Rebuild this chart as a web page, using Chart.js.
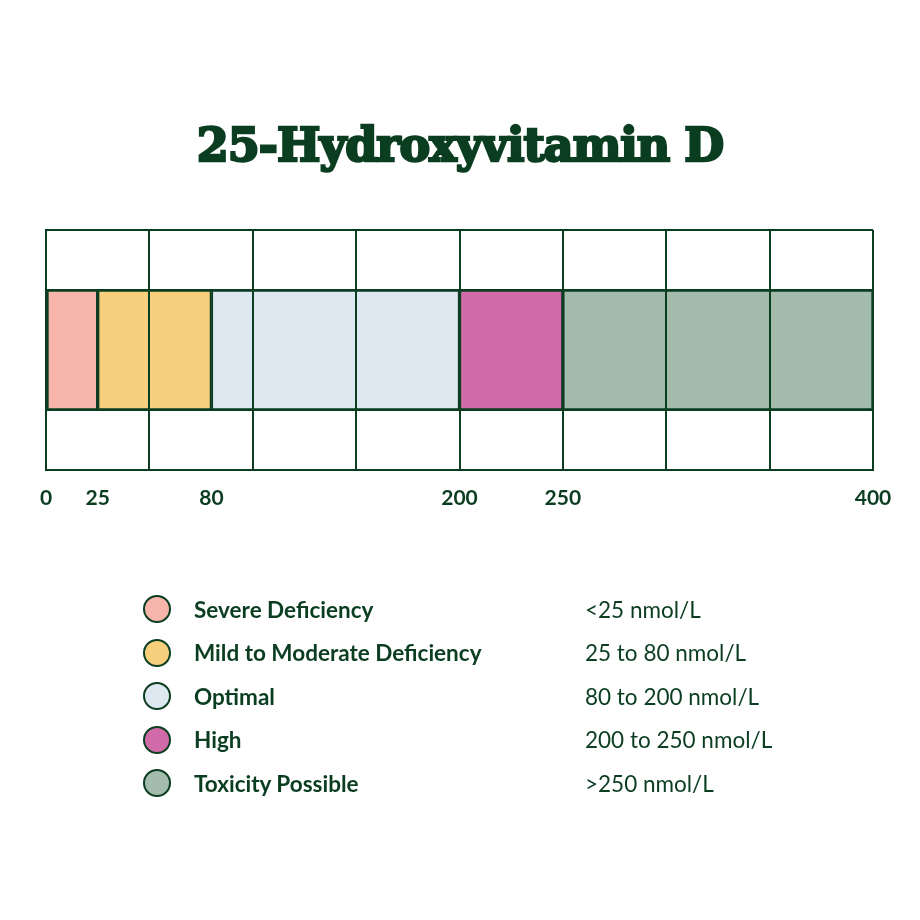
<!DOCTYPE html>
<html>
<head>
<meta charset="utf-8">
<script src="https://cdn.jsdelivr.net/npm/chart.js@4"></script>
<style>
  body { margin: 0; background: #fff; }
  #wrap { position: relative; width: 920px; height: 920px; }
  canvas { position: absolute; left: 0; top: 0; }
  h1 { position: absolute; top: 118px; left: 0; width: 920px; margin: 0; text-align: center;
       font-family: "DejaVu Serif", serif; font-weight: 900; font-size: 46px; color: #0b3d20;
       -webkit-text-stroke: 2.5px #0b3d20; letter-spacing: -1px; }
  .row { position: absolute; left: 143px; height: 30px; display: flex; align-items: center;
         font-family: Lato, sans-serif; color: #0b3d20; font-size: 22.5px; }
  .dot { width: 28px; height: 28px; border-radius: 50%; border: 2px solid #0b3d20; box-sizing: border-box; }
  .lab { position: absolute; left: 51px; font-weight: 700; white-space: nowrap; }
  .rng { position: absolute; left: 442px; white-space: nowrap; }
</style>
</head>
<body>
<div id="wrap">
  <canvas id="c" width="920" height="920"></canvas>
  <h1>25-Hydroxyvitamin D</h1>
  <div id="legend"></div>
</div>
<script>
// --- data ---
const bands = ['Severe Deficiency', 'Mild to Moderate Deficiency', 'Optimal', 'High', 'Toxicity Possible'];
const bandStart = [0, 25, 80, 200, 250];
const bandEnd = [25, 80, 200, 250, 400];
const bandRanges = ['<25 nmol/L', '25 to 80 nmol/L', '80 to 200 nmol/L', '200 to 250 nmol/L', '>250 nmol/L'];
const bandColors = ['#f7b4aa', '#f8d07d', '#dde8f1', '#d06aa8', '#a3bcab'];
const tickLabels = [0, 25, 80, 200, 250, 400];

const ink = '#0b3d20';
const rows = ['top', 'mid1', 'mid2', 'bottom'];

const datasets = bands.map((name, i) => ({
  label: name,
  data: [null, [bandStart[i], bandEnd[i]], [bandStart[i], bandEnd[i]], null],
  backgroundColor: bandColors[i],
  borderColor: ink,
  borderWidth: 2,
  borderSkipped: ctx => ctx.dataIndex === 1 ? 'bottom' : 'top',
  barPercentage: 1,
  categoryPercentage: 1,
  grouped: false
}));

// redraw the vertical grid over the bars
const gridOnTop = {
  id: 'gridOnTop',
  afterDatasetsDraw(chart) {
    chart.scales.x.drawGrid(chart.chartArea);
  }
};

new Chart(document.getElementById('c'), {
  type: 'bar',
  data: { labels: rows, datasets },
  plugins: [gridOnTop],
  options: {
    indexAxis: 'y',
    responsive: false,
    animation: false,
    layout: { padding: { left: 46, right: 47, top: 230, bottom: 0 } },
    plugins: { legend: { display: false }, tooltip: { enabled: false } },
    scales: {
      x: {
        min: 0, max: 400,
        ticks: { display: false, stepSize: 50 },
        grid: { color: ink, lineWidth: 2, drawTicks: false },
        border: { color: ink, width: 2 }
      },
      x2: {
        position: 'bottom', min: 0, max: 400,
        afterBuildTicks: axis => { axis.ticks = tickLabels.map(v => ({ value: v })); },
        afterFit: axis => { axis.height = 450; },
        ticks: { color: ink, font: { family: 'Lato', weight: 'bold', size: 21 }, padding: 8, maxRotation: 0, autoSkip: false },
        grid: { display: false },
        border: { display: false }
      },
      y: {
        ticks: { display: false },
        grid: { color: ctx => ctx.index === 2 ? 'rgba(0,0,0,0)' : ink, lineWidth: 2, drawTicks: false },
        border: { color: ink, width: 2 }
      }
    }
  }
});

// legend rows
const legend = document.getElementById('legend');
bands.forEach((name, i) => {
  const row = document.createElement('div');
  row.className = 'row';
  row.style.top = (594 + i * 43.5) + 'px';
  row.innerHTML = '<div class="dot" style="background:' + bandColors[i] + '"></div>' +
    '<span class="lab"></span><span class="rng"></span>';
  row.querySelector('.lab').textContent = name;
  row.querySelector('.rng').textContent = bandRanges[i];
  legend.appendChild(row);
});
</script>
</body>
</html>
